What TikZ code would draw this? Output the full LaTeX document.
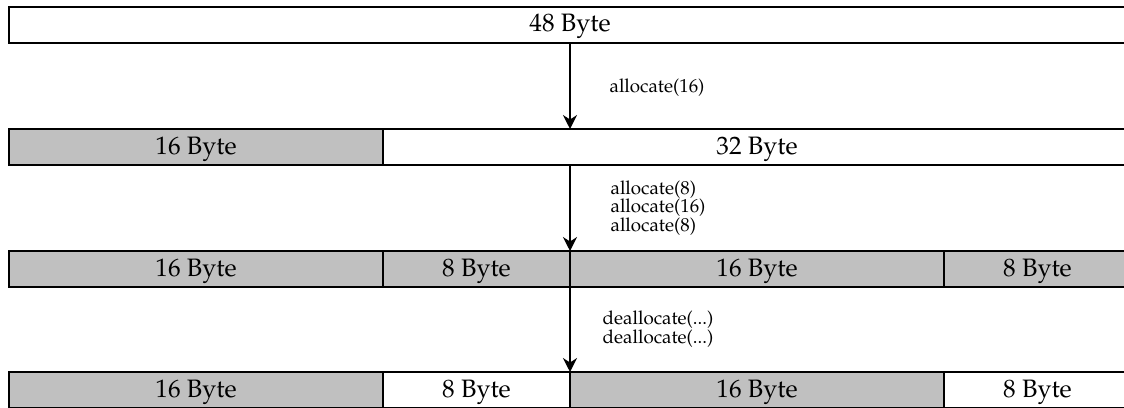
\documentclass[tikz,border=0pt]{standalone}
\usepackage[T1]{fontenc}
\usepackage{mathpazo}
\usetikzlibrary{arrows.meta}

\definecolor{usedgray}{RGB}{192,192,192}

\tikzset{
  block/.style={draw=black, line width=0.85pt},
  used/.style={block, fill=usedgray},
  free/.style={block, fill=white},
  sizelabel/.style={font=\fontsize{12.6}{14}\selectfont, inner sep=0pt, anchor=base},
  % multi-line labels are placed by the baseline of their last line
  oplabel/.style={font=\fontsize{9.4}{9.25}\selectfont, align=left, inner sep=0pt, anchor=base},
  flow/.style={line width=0.75pt, -{Stealth[length=7pt,width=7pt]}},
}

\begin{document}
\begin{tikzpicture}[x=0.5pt, y=-0.5pt]
  \useasboundingbox (0,0) rectangle (1124,407);
  \clip (0,0) rectangle (1124,407);

  % row 1: the whole 48-byte block
  \draw[free] (9,7) rectangle (1131,43);
  \node[sizelabel] (r1) at (570,32) {48 Byte};

  % row 2
  \draw[used] (9,129) rectangle (383,165);
  \draw[free] (383,129) rectangle (1131,165);
  \node[sizelabel] (r2a) at (196,154) {16 Byte};
  \node[sizelabel] (r2b) at (757,154) {32 Byte};

  % row 3
  \draw[used] (9,251) rectangle (383,287);
  \draw[used] (383,251) rectangle (570,287);
  \draw[used] (570,251) rectangle (944,287);
  \draw[used] (944,251) rectangle (1131,287);
  \node[sizelabel] (r3a) at (196,276) {16 Byte};
  \node[sizelabel] (r3b) at (476.5,276) {8 Byte};
  \node[sizelabel] (r3c) at (757,276) {16 Byte};
  \node[sizelabel] (r3d) at (1037.5,276) {8 Byte};

  % row 4
  \draw[used] (9,372) rectangle (383,408);
  \draw[free] (383,372) rectangle (570,408);
  \draw[used] (570,372) rectangle (944,408);
  \draw[free] (944,372) rectangle (1131,408);
  \node[sizelabel] (r4a) at (196,397) {16 Byte};
  \node[sizelabel] (r4b) at (476.5,397) {8 Byte};
  \node[sizelabel] (r4c) at (757,397) {16 Byte};
  \node[sizelabel] (r4d) at (1037.5,397) {8 Byte};

  % transition arrows between the rows
  \coordinate (a1s) at (570,43);
  \coordinate (a1e) at (570,129);
  \coordinate (a2s) at (570,165);
  \coordinate (a2e) at (570,251);
  \coordinate (a3s) at (570,287);
  \coordinate (a3e) at (570,372);
  \draw[flow] (a1s) -- (a1e);
  \draw[flow] (a2s) -- (a2e);
  \draw[flow] (a3s) -- (a3e);

  % operations
  \node[oplabel] (op1) at (657,92) {allocate(16)};
  \node[oplabel] (op2) at (658,231) {allocate(8)\\allocate(16)\\allocate(8)};
  \node[oplabel] (op3) at (658,343) {deallocate(...)\\deallocate(...)};
\end{tikzpicture}
\end{document}
